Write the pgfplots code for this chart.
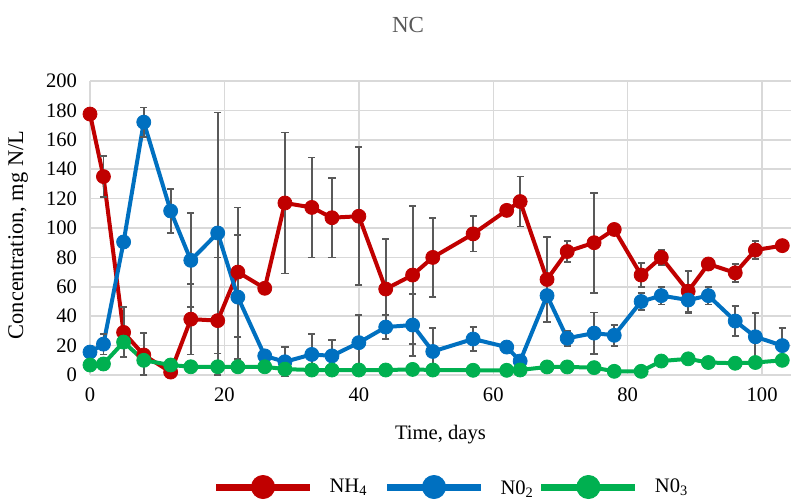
\documentclass[border=0pt]{standalone}
\usepackage{fontspec}
\setmainfont{Liberation Serif}
\usepackage{pgfplots}
\usepackage{pgfplotstable}
\pgfplotsset{compat=1.18}
\definecolor{cred}{HTML}{C00000}
\definecolor{cblue}{HTML}{0070C0}
\definecolor{cgreen}{HTML}{00B050}
\definecolor{cerr}{HTML}{595959}
\definecolor{cgrid}{HTML}{D9D9D9}

\pgfplotstableread{
x y ep em
0 177.5 0 0
2 135 14 14
5 29 17 17
8 13.6 15 13.6
12 2 0 0
15 38 24 24
19 37 43 37
22 70 44 44
26 59 0 0
29 117 48 48
33 114 34 34
36 107 27 27
40 108 47 47
44 58.5 34 34
48 68 47 47
51 80 27 27
57 96 12 12
62 112 0 0
64 118 17 17
68 65 29 29
71 84 7 7
75 90 34 34
78 99 0 0
82 68 8 8
85 80 5 5
89 57 14 14
92 75.5 0 0
96 69.5 6 6
99 85 6 6
103 88 0 0
}\nhfour

\pgfplotstableread{
x y e
0 15.6 0
2 21 7
5 90.5 0
8 172 10
12 111.6 15
15 78 32
19 96.6 82
22 53 42
26 13 0
29 9 10
33 14 14
36 13 11
40 22 19
44 32.6 8
48 34 21
51 16 16
57 24.5 8
62 19 0
64 9.5 0
68 54 0
71 25 5
75 28.5 14
78 27 7
82 50 6
85 54 6
89 51 9
92 54 6
96 36.7 10
99 26 16
103 20 12
}\notwo

\pgfplotstableread{
x y
0 6.8
2 7.5
5 22.4
8 10
12 6.8
15 5.6
19 5.6
22 5.6
26 5.6
29 4
33 3.4
36 3.4
40 3.4
44 3.4
48 3.8
51 3.4
57 3.2
62 3.2
64 3.4
68 5.5
71 5.5
75 5
78 2.5
82 2.5
85 9.5
89 11
92 8.5
96 8
99 8.5
103 10
}\nothree

\begin{document}
\begin{tikzpicture}
\begin{axis}[
  at={(45pt,62pt)}, anchor=south west,
  scale only axis, width=350.5pt, height=147pt,
  xmin=0, xmax=104.3, ymin=0, ymax=200,
  xtick={0,20,...,100}, ytick={0,20,...,200},
  grid=major, major grid style={cgrid, line width=0.75pt},
  axis line style={draw=none},
  major tick length=0pt,
  clip=false,
  tick label style={font=\fontsize{10.3}{12}\selectfont, text=black},
  /pgf/number format/assume math mode=true,
  yticklabel style={xshift=-3pt},
  xticklabel style={yshift=-3pt},
  ylabel={Concentration, mg N/L},
  ylabel style={at={(axis description cs:-0.1027,0.476)}, anchor=center, font=\fontsize{11.2}{13}\selectfont},
  xlabel={Time, days},
  xlabel style={at={(axis description cs:0.5,0)}, anchor=center, yshift=-30pt, font=\fontsize{10.3}{12}\selectfont},
  title={NC},
  title style={at={(axis description cs:0.4536,1.15)}, anchor=center, text=cerr, font=\fontsize{11.5}{13}\selectfont},
  legend columns=3,
  legend style={draw=none, fill=none, at={(0.1657,-0.381)}, anchor=west,
    font=\fontsize{10.3}{12}\selectfont,
    /tikz/column 2/.style={column sep=6pt},
    /tikz/column 4/.style={column sep=0pt},
    /tikz/every odd column/.append style={column sep=6pt}},
  legend image code/.code={\draw[#1, line width=3.5pt, mark repeat=2, mark phase=2, mark options={line width=0.4pt}, mark size=5.8pt] plot coordinates {(0pt,0pt) (23.5pt,0pt) (47pt,0pt)};},
  every axis plot/.append style={line width=2pt, mark=*, mark size=3.5pt},
]
\addplot[cred, mark options={fill=cred, draw=cred, line width=0.4pt},
  error bars/.cd, y dir=both, y explicit,
  error bar style={cerr, line width=0.9pt},
  error mark options={cerr, line width=0.9pt, mark size=1.8pt, rotate=90}]
  table[x=x, y=y, y error plus=ep, y error minus=em] {\nhfour};
\addlegendentry{NH\textsubscript{4}}
\addplot[cblue, mark options={fill=cblue, draw=cblue, line width=0.4pt},
  error bars/.cd, y dir=both, y explicit,
  error bar style={cerr, line width=0.9pt},
  error mark options={cerr, line width=0.9pt, mark size=1.8pt, rotate=90}]
  table[x=x, y=y, y error=e] {\notwo};
\addlegendentry{\raisebox{-2.5pt}{N0\textsubscript{2}}}
\addplot[cgreen, mark options={fill=cgreen, draw=cgreen, line width=0.4pt}]
  table[x=x, y=y] {\nothree};
\addlegendentry{N0\textsubscript{3}}
\end{axis}
\pgfresetboundingbox
\path[use as bounding box] (0,0) rectangle (395.5pt,249.5pt);
\end{tikzpicture}
\end{document}
